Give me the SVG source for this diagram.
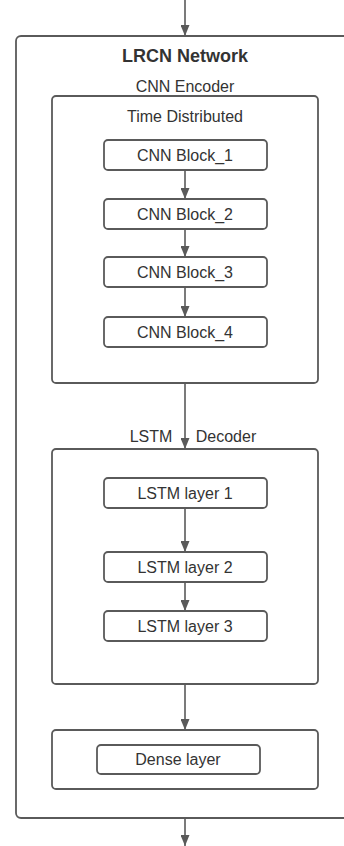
<svg xmlns="http://www.w3.org/2000/svg" width="344" height="846" viewBox="0 0 344 846">
<style>
.box{fill:#fff;stroke:#5a5a5a;stroke-width:1.8}
.t{font-family:"Liberation Sans",Arial,sans-serif;font-size:16px;fill:#333;text-anchor:middle}
.b{font-weight:bold;font-size:18px}
.c{stroke:#5a5a5a;stroke-width:1.6;fill:none;marker-end:url(#ah)}
</style>
<defs>
<marker id="ah" viewBox="0 0 11 9" refX="11" refY="4.5" markerWidth="11" markerHeight="9" markerUnits="userSpaceOnUse" orient="auto">
<path d="M0,0 L11,4.5 L0,9 z" fill="#5a5a5a"/>
</marker>
</defs>
<rect width="344" height="846" fill="#fff"/>
<g id="lrcn">
<rect class="box" x="16" y="36" width="345" height="782" rx="5"/>
<text class="t b" x="185" y="62">LRCN Network</text>
</g>
<g id="encoder">
<text class="t" x="185" y="92">CNN Encoder</text>
<rect class="box" x="52" y="96" width="266" height="287" rx="4"/>
<text class="t" x="185" y="122">Time Distributed</text>
</g>
<g id="cnn1"><rect class="box" x="104" y="140" width="163" height="30" rx="4"/><text class="t" x="185" y="161">CNN Block_1</text></g>
<g id="cnn2"><rect class="box" x="104" y="199" width="163" height="30" rx="4"/><text class="t" x="185" y="220">CNN Block_2</text></g>
<g id="cnn3"><rect class="box" x="104" y="257" width="163" height="30" rx="4"/><text class="t" x="185" y="278">CNN Block_3</text></g>
<g id="cnn4"><rect class="box" x="104" y="317" width="163" height="30" rx="4"/><text class="t" x="185" y="338">CNN Block_4</text></g>
<g id="decoder">
<text class="t" x="151" y="442">LSTM</text>
<text class="t" x="226" y="442">Decoder</text>
<rect class="box" x="52" y="449" width="266" height="235" rx="4"/>
</g>
<g id="lstm1"><rect class="box" x="104" y="478" width="163" height="30" rx="4"/><text class="t" x="185" y="499">LSTM layer 1</text></g>
<g id="lstm2"><rect class="box" x="104" y="552" width="163" height="30" rx="4"/><text class="t" x="185" y="573">LSTM layer 2</text></g>
<g id="lstm3"><rect class="box" x="104" y="611" width="163" height="30" rx="4"/><text class="t" x="185" y="632">LSTM layer 3</text></g>
<g id="denseblock"><rect class="box" x="52" y="730" width="266" height="59" rx="4"/></g>
<g id="dense"><rect class="box" x="97" y="745" width="163" height="29" rx="4"/><text class="t" x="178" y="765">Dense layer</text></g>
<g id="connectors">
<line class="c" x1="185" y1="0" x2="185" y2="36"/>
<line class="c" x1="185" y1="170" x2="185" y2="199"/>
<line class="c" x1="185" y1="229" x2="185" y2="257"/>
<line class="c" x1="185" y1="287" x2="185" y2="317"/>
<line class="c" x1="185" y1="383" x2="185" y2="449"/>
<line class="c" x1="185" y1="508" x2="185" y2="552"/>
<line class="c" x1="185" y1="582" x2="185" y2="611"/>
<line class="c" x1="185" y1="684" x2="185" y2="730"/>
<line class="c" x1="185" y1="818" x2="185" y2="846"/>
</g>
</svg>
